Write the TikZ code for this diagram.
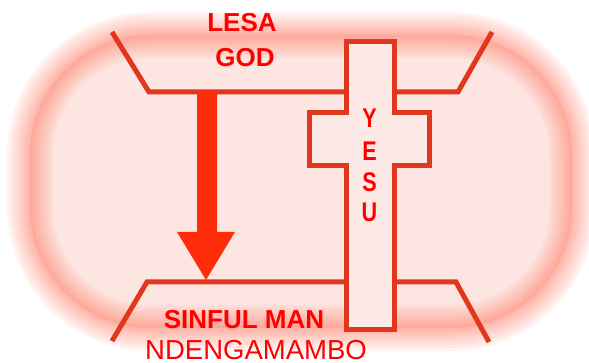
\documentclass[tikz,border=0pt]{standalone}
\usepackage{fontspec}
\setmainfont{Liberation Sans}
\usepackage{graphicx}
\definecolor{linecol}{RGB}{225,55,30}
\definecolor{arrowcol}{RGB}{255,45,10}
\definecolor{textcol}{RGB}{255,0,0}
\definecolor{crossfill}{RGB}{253,234,230}
\definecolor{bgfill}{RGB}{253,230,226}
\definecolor{glowcol}{RGB}{255,135,115}
\tikzset{
  bar/.style={draw=linecol, line width=5pt, line join=miter},
  crossbox/.style={draw=linecol, fill=crossfill, line width=5pt, line join=miter},
  boldlbl/.style={text=textcol, font=\bfseries\fontsize{26}{26}\selectfont, inner sep=0pt},
  plainlbl/.style={text=textcol, font=\fontsize{27.5}{27.5}\selectfont, inner sep=0pt},
  vlbl/.style={text=textcol, font=\bfseries\fontsize{27}{27}\selectfont, inner sep=0pt},
}
\begin{document}
\begin{tikzpicture}[x=1pt,y=-1pt]
\useasboundingbox (0,0) rectangle (589,363);
% background plate with blurred edge
\fill[bgfill, rounded corners=120pt] (30,35) rectangle (572,328);
\foreach \w in {46,40,34,28,23,18,14,10,6,3} {
  \draw[glowcol, opacity=0.09, line width=\w pt, rounded corners=120pt] (30,35) rectangle (572,328);
}
% top and bottom bars
\coordinate (t1) at (112,32);
\coordinate (t2) at (149,92);
\coordinate (t3) at (458,92);
\coordinate (t4) at (492,32);
\coordinate (b1) at (112,341);
\coordinate (b2) at (147,282);
\coordinate (b3) at (456,282);
\coordinate (b4) at (489,342);
\draw[bar] (t1) -- (t2) -- (t3) -- (t4);
\draw[bar] (b1) -- (b2) -- (b3) -- (b4);
% arrow from God down to man
\fill[arrowcol] (197,92) -- (217,92) -- (217,232) -- (235,232) -- (206,280) -- (177,232) -- (197,232) -- cycle;
% cross
\draw[crossbox] (346.5,41.5) -- (394.5,41.5) -- (394.5,112.5) -- (429.5,112.5) -- (429.5,165.5)
  -- (394.5,165.5) -- (394.5,329.5) -- (346.5,329.5) -- (346.5,165.5) -- (309.5,165.5)
  -- (309.5,112.5) -- (346.5,112.5) -- cycle;
% labels
\node[boldlbl] (lesa) at (242,22.5) {LESA};
\node[boldlbl] (god) at (245,57.5) {GOD};
\node[vlbl] (y1) at (369.5,118.5) {\scalebox{0.8}[1]{Y}};
\node[vlbl] (y2) at (369.5,151) {\scalebox{0.8}[1]{E}};
\node[vlbl] (y3) at (369.5,182) {\scalebox{0.8}[1]{S}};
\node[vlbl] (y4) at (369.5,212.5) {\scalebox{0.8}[1]{U}};
\node[boldlbl] (sinful) at (244,320) {SINFUL MAN};
\node[plainlbl, anchor=north] (ndenga) at (256,340) {NDENGAMAMBO};
\end{tikzpicture}
\end{document}
